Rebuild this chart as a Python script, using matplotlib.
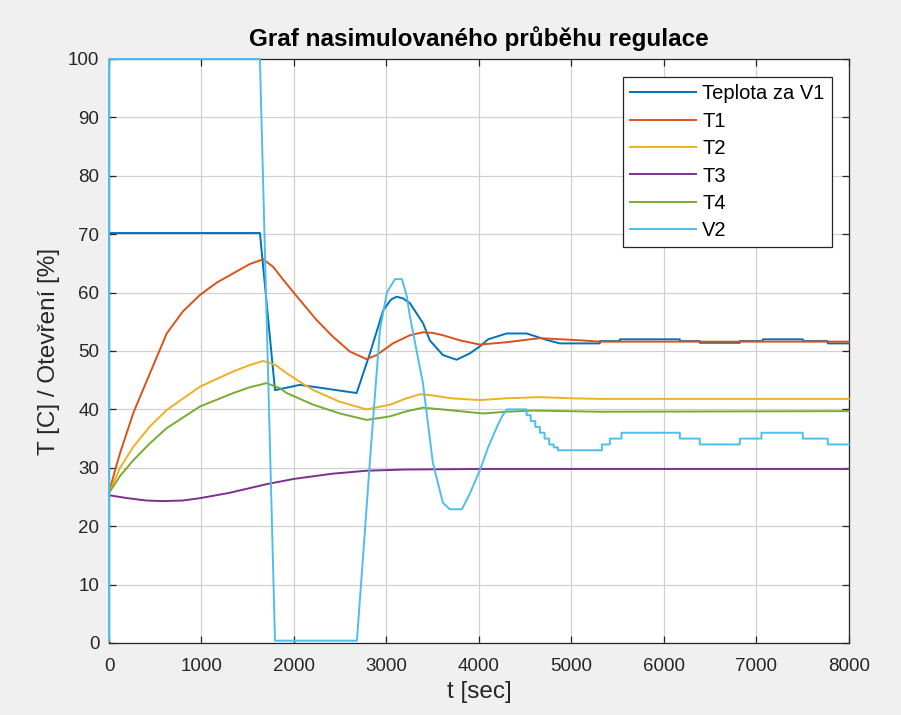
import numpy as np
import matplotlib
matplotlib.use('Agg')
import matplotlib.pyplot as plt

plt.rcParams['font.family'] = ['Liberation Sans', 'DejaVu Sans']

# Teplota za V1
t_v1 = [0, 1632, 1795, 2065, 2678, 2822, 2966, 3050, 3110, 3180, 3254, 3398, 3470, 3611,
        3759, 3903, 4011, 4100, 4300, 4516, 4732, 4876,
        5308, 5308, 5524, 5524, 6173, 6173, 6389, 6389, 6822, 6822, 7070, 7070,
        7503, 7503, 7773, 7773, 8000]
v_v1 = [70.2, 70.2, 43.3, 44.2, 42.8, 49.6, 57.0, 58.8, 59.3, 59.0, 58.2, 54.7, 51.8, 49.3,
        48.5, 49.6, 50.8, 52.0, 53.0, 53.0, 51.9, 51.3,
        51.3, 51.7, 51.7, 52.0, 52.0, 51.7, 51.7, 51.4, 51.4, 51.7, 51.7, 52.0,
        52.0, 51.7, 51.7, 51.3, 51.3]

# T1
t_t1 = [0, 60, 119, 263, 443, 624, 800, 984, 1164, 1344, 1524, 1668, 1776, 1884, 2065, 2245,
        2425, 2605, 2786, 2894, 3070, 3254, 3395, 3500, 3611, 3800, 4011, 4300, 4659, 5124,
        5308, 8000]
v_t1 = [25.7, 29.3, 32.5, 39.4, 46.2, 53.0, 56.8, 59.6, 61.7, 63.3, 64.9, 65.7, 64.4, 62.2,
        58.7, 55.3, 52.4, 49.9, 48.6, 49.3, 51.3, 52.7, 53.2, 53.1, 52.7, 51.8, 51.1, 51.5,
        52.2, 51.8, 51.6, 51.6]

# T2
t_t2 = [0, 119, 263, 443, 624, 984, 1164, 1344, 1524, 1668, 1800, 1921, 2065, 2209, 2497,
        2786, 3038, 3200, 3362, 3500, 3700, 4011, 4300, 4659, 5000, 5308, 8000]
v_t2 = [25.7, 30.0, 33.6, 37.1, 39.9, 43.9, 45.2, 46.5, 47.6, 48.3, 47.6, 46.2, 44.7, 43.3,
        41.3, 40.0, 40.8, 41.8, 42.6, 42.4, 41.9, 41.6, 41.9, 42.1, 41.9, 41.8, 41.8]

# T3
t_t3 = [0, 200, 400, 584, 800, 984, 1300, 1705, 2000, 2422, 2786, 3200, 4011, 5000, 8000]
v_t3 = [25.3, 24.8, 24.4, 24.3, 24.4, 24.8, 25.7, 27.2, 28.1, 29.0, 29.5, 29.7, 29.8, 29.8, 29.8]

# T4
t_t4 = [0, 119, 263, 443, 624, 984, 1344, 1524, 1705, 1850, 1921, 2209, 2497, 2786, 3038,
        3200, 3395, 3600, 4043, 4300, 4584, 5308, 8000]
v_t4 = [25.7, 28.6, 31.3, 34.2, 36.8, 40.5, 42.8, 43.8, 44.5, 43.6, 42.8, 40.8, 39.3, 38.2,
        38.8, 39.6, 40.3, 40.0, 39.3, 39.6, 39.8, 39.6, 39.7]

# V2
t_v2 = [0, 0, 1632, 1795, 2681, 2768, 2822, 2930, 3005, 3092, 3168, 3222, 3254, 3395, 3503,
        3611, 3686, 3816, 3900, 4011, 4100, 4195, 4250, 4303, 4516,
        4516, 4560, 4560, 4610, 4610, 4660, 4660, 4710, 4710, 4760, 4760, 4810, 4810, 4854,
        4854, 5330, 5330, 5416, 5416, 5543, 5543, 6173, 6173, 6389, 6389, 6822, 6822, 7056,
        7056, 7503, 7503, 7773, 7773, 8000]
v_v2 = [0.4, 100, 100, 0.4, 0.4, 19.3, 31.3, 53.6, 60.0, 62.3, 62.3, 59.3, 55.9, 44.5, 30.8,
        24.0, 22.9, 22.9, 25.5, 29.6, 33.5, 37.0, 38.8, 40.0, 40.0,
        39, 39, 38, 38, 37, 37, 36, 36, 35, 35, 34, 34, 33.5, 33.5,
        33, 33, 34, 34, 35, 35, 36, 36, 35, 35, 34, 34, 35, 35,
        36, 36, 35, 35, 34, 34]

fig = plt.figure(figsize=(9.01, 7.15), dpi=100, facecolor='#f0f0f0')
ax = fig.add_axes([0.121, 0.1007, 0.821, 0.8168])

lw = 1.4
series = [
    (t_v1, v_v1, '#0072BD', 'Teplota za V1'),
    (t_t1, v_t1, '#D95319', 'T1'),
    (t_t2, v_t2, '#EDB120', 'T2'),
    (t_t3, v_t3, '#7E2F8E', 'T3'),
    (t_t4, v_t4, '#77AC30', 'T4'),
    (t_v2, v_v2, '#4DBEEE', 'V2'),
]
for t, v, c, name in series:
    ax.plot(t, v, color=c, lw=lw, label=name, clip_on=False, zorder=3)

ax.set_xlim(0, 8000)
ax.set_ylim(0, 100)
ax.set_xticks(np.arange(0, 8001, 1000))
ax.set_yticks(np.arange(0, 101, 10))
ax.grid(True, color='#d0d0d0', lw=0.9)
ax.set_axisbelow(True)
ax.tick_params(direction='in', top=True, right=True, length=5, width=0.9,
               labelsize=13.5, colors='#262626', pad=7)
ax.tick_params(axis='x', pad=11)
for s in ax.spines.values():
    s.set_color('#262626')
    s.set_linewidth(0.9)

ax.set_title('Graf nasimulovaného průběhu regulace', fontsize=17.5, fontweight='bold',
             color='black', pad=9)
ax.set_xlabel('t [sec]', fontsize=17.5, color='#262626', labelpad=4)
ax.set_ylabel('T [C] / Otevření [%]', fontsize=17.5, color='#262626', labelpad=6)

leg = ax.legend(loc='upper right', bbox_to_anchor=(0.977, 0.969), borderaxespad=0,
                fontsize=14.5, frameon=True, fancybox=False, edgecolor='#262626',
                framealpha=1, handlelength=3.3, borderpad=0.35, labelspacing=0.42,
                handletextpad=0.3)
leg.get_frame().set_linewidth(0.9)
leg.set_zorder(5)

fig.savefig('out.png', dpi=100, facecolor=fig.get_facecolor())
